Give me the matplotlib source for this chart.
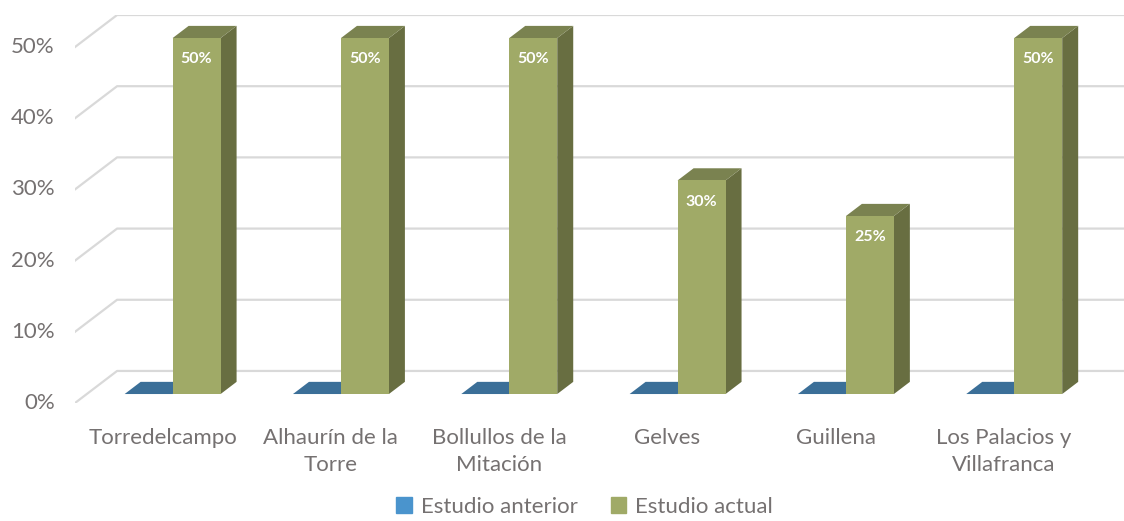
import matplotlib.pyplot as plt
from matplotlib.patches import Polygon, Patch

plt.rcParams['font.family'] = ['Lato', 'DejaVu Sans']

categories = ['Torredelcampo', 'Alhaurín de la\nTorre', 'Bollullos de la\nMitación',
              'Gelves', 'Guillena', 'Los Palacios y\nVillafranca']
anterior = [0, 0, 0, 0, 0, 0]
actual = [50, 50, 50, 30, 25, 50]
yticks = [0, 10, 20, 30, 40, 50]

# 3d look: full depth of the back wall and bar depth positions
DX, DY = 0.25, 4.5
d1, d2 = 0.28, 0.66
bw = 0.285

blue_top = '#3b6f98'
blue_leg = '#4a94cd'
g_front = '#a0aa67'
g_side = '#686e41'
g_top = '#7a8250'
grid_c = '#d9d9d9'
txt_c = '#757171'

fig = plt.figure(figsize=(11.24, 5.21), dpi=100)
ax = fig.add_axes([75 / 1124, 118 / 521, 1052 / 1124, 388 / 521])
ax.set_xlim(0, 6 + DX)
ax.set_ylim(0, 50 + DY)
ax.axis('off')

# gridlines: short diagonal on the side wall + back wall line
for v in yticks:
    ax.plot([0, DX, 6 + DX], [v, v + DY, v + DY], color=grid_c, lw=1.6, zorder=1)
    ax.text(-0.12, v, f'{v}%', ha='right', va='center', fontsize=16, color=txt_c)

ox1, oy1 = d1 * DX, d1 * DY
ox2, oy2 = d2 * DX, d2 * DY

for i, (a, g) in enumerate(zip(anterior, actual)):
    c = i + 0.51
    # blue bar (zero height: only the top face shows)
    x0, x1 = c - bw, c
    ax.add_patch(Polygon([(x0 + ox1, a + oy1), (x1 + ox1, a + oy1),
                          (x1 + ox2, a + oy2), (x0 + ox2, a + oy2)],
                         closed=True, fc=blue_top, ec='none', zorder=2))
    # green bar
    x0, x1 = c, c + bw
    ax.add_patch(Polygon([(x1 + ox1, oy1), (x1 + ox2, oy2),
                          (x1 + ox2, g + oy2), (x1 + ox1, g + oy1)],
                         closed=True, fc=g_side, ec='none', zorder=3))
    ax.add_patch(Polygon([(x0 + ox1, g + oy1), (x1 + ox1, g + oy1),
                          (x1 + ox2, g + oy2), (x0 + ox2, g + oy2)],
                         closed=True, fc=g_top, ec='none', zorder=3))
    ax.bar(x0 + ox1, g, width=bw, bottom=oy1, align='edge', color=g_front, zorder=4)
    ax.text(x0 + ox1 + bw / 2, g + oy1 - 3.0, f'{g}%', ha='center', va='center',
            color='white', fontsize=11.5, fontweight='bold', zorder=5)
    ax.text(c + 0.01, -3.5, categories[i], ha='center', va='top', fontsize=16,
            color=txt_c, linespacing=1.45)

handles = [Patch(color=blue_leg, label='Estudio anterior'),
           Patch(color=g_front, label='Estudio actual')]
fig.legend(handles=handles, loc='lower center', ncol=2, frameon=False,
           bbox_to_anchor=(0.52, -0.03), fontsize=16, labelcolor=txt_c,
           handlelength=0.7, handleheight=0.7, handletextpad=0.4, columnspacing=1.5)

fig.savefig('out.png', dpi=100)
